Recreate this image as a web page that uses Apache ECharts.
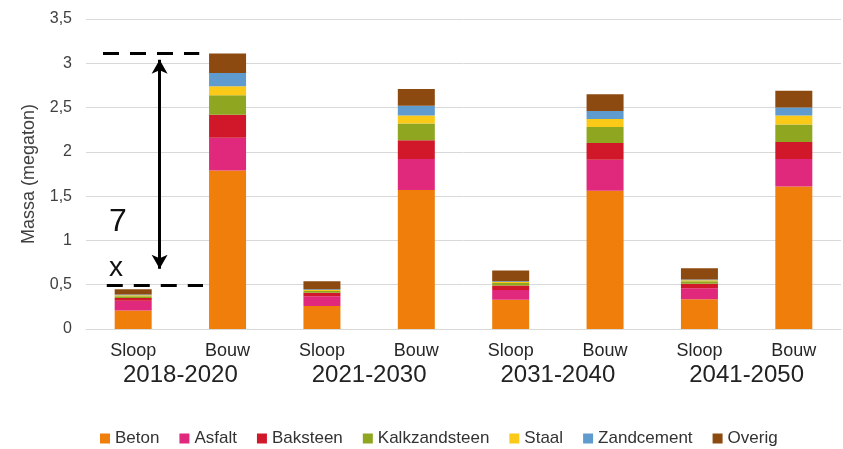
<!DOCTYPE html>
<html>
<head>
<meta charset="utf-8">
<script src="https://cdn.jsdelivr.net/npm/echarts@6/dist/echarts.min.js"></script>
<style>
  html, body { margin: 0; padding: 0; background: #fff; }
  #chart { width: 843px; height: 449px; }
</style>
</head>
<body>
<div id="chart"></div>
<script>
// bars: Sloop / Bouw per period
const categories = ['Sloop', 'Bouw', 'Sloop', 'Bouw', 'Sloop', 'Bouw', 'Sloop', 'Bouw'];
const periods = ['2018-2020', '2021-2030', '2031-2040', '2041-2050'];

const beton         = [0.21, 1.79, 0.26, 1.57, 0.33, 1.56, 0.335, 1.61];
const asfalt        = [0.11, 0.37, 0.11, 0.35, 0.11, 0.35, 0.125, 0.31];
const baksteen      = [0.03, 0.26, 0.04, 0.21, 0.05, 0.19, 0.05, 0.19];
const kalkzandsteen = [0.02, 0.22, 0.02, 0.19, 0.03, 0.18, 0.03, 0.20];
const staal         = [0.01, 0.10, 0.01, 0.09, 0.01, 0.09, 0.01, 0.10];
const zandcement    = [0.01, 0.15, 0.01, 0.11, 0.01, 0.09, 0.01, 0.09];
const overig        = [0.06, 0.22, 0.09, 0.19, 0.12, 0.19, 0.125, 0.19];

const yTicks = [0, 0.5, 1, 1.5, 2, 2.5, 3, 3.5];

// annotation: ratio ~7x between Bouw and Sloop 2018-2020
const dashTop = [[-0.32, 3.11], [0.70, 3.11]];
const dashBottom = [[-0.28, 0.49], [0.74, 0.49]];
const arrow = [[0.28, 3.04], [0.28, 0.68]];

const materials = [
    { name: 'Beton', data: beton, color: '#EF7F0A' },
    { name: 'Asfalt', data: asfalt, color: '#E0297C' },
    { name: 'Baksteen', data: baksteen, color: '#D1182B' },
    { name: 'Kalkzandsteen', data: kalkzandsteen, color: '#8EA620' },
    { name: 'Staal', data: staal, color: '#FBC918' },
    { name: 'Zandcement', data: zandcement, color: '#5F9BCF' },
    { name: 'Overig', data: overig, color: '#8C4A10' }
];

const font = 'Arial, "Liberation Sans", sans-serif';

const chart = echarts.init(document.getElementById('chart'));

const barSeries = materials.map(m => ({
    name: m.name,
    type: 'bar',
    stack: 'total',
    barWidth: 37,
    xAxisIndex: 0,
    yAxisIndex: 0,
    data: m.data,
    itemStyle: { color: m.color },
    emphasis: { disabled: true }
}));

const dashStyle = { color: '#000', width: 3, type: [16, 11] };

const option = {
    animation: false,
    textStyle: { fontFamily: font },
    grid: { left: 86, right: 2, top: 19, bottom: 120 },
    legend: {
        data: materials.map(m => m.name),
        top: 425,
        left: 95,
        icon: 'rect',
        itemWidth: 10,
        itemHeight: 10,
        itemGap: 20,
        textStyle: { fontSize: 17, color: '#333', fontFamily: font }
    },
    xAxis: [
        {
            type: 'category',
            data: categories,
            axisTick: { show: false },
            axisLine: { lineStyle: { color: '#d9d9d9' } },
            axisLabel: { fontSize: 18, color: '#262626', margin: 13 }
        },
        {
            type: 'category',
            data: periods,
            position: 'bottom',
            offset: 26,
            axisTick: { show: false },
            axisLine: { show: false },
            axisLabel: { fontSize: 24, color: '#222', margin: 8 }
        },
        {
            type: 'value',
            min: -0.5,
            max: 7.5,
            show: false
        }
    ],
    yAxis: {
        type: 'value',
        min: yTicks[0],
        max: yTicks[yTicks.length - 1],
        interval: 0.5,
        name: 'Massa (megaton)',
        nameLocation: 'middle',
        nameGap: 48,
        nameTextStyle: { fontSize: 18, color: '#404040' },
        axisLine: { show: false },
        axisTick: { show: false },
        splitLine: { lineStyle: { color: '#d9d9d9' } },
        axisLabel: {
            fontSize: 16,
            color: '#404040',
            margin: 14,
            formatter: v => String(v).replace('.', ',')
        }
    },
    series: barSeries.concat([{
        type: 'line',
        xAxisIndex: 2,
        yAxisIndex: 0,
        data: [],
        silent: true,
        markLine: {
            silent: true,
            animation: false,
            label: { show: false },
            emphasis: { disabled: true },
            data: [
                [{ coord: dashTop[0], symbol: 'none', lineStyle: dashStyle },
                 { coord: dashTop[1], symbol: 'none' }],
                [{ coord: dashBottom[0], symbol: 'none', lineStyle: dashStyle },
                 { coord: dashBottom[1], symbol: 'none' }],
                [{ coord: arrow[0], symbol: 'arrow', symbolSize: [12, 14], lineStyle: { color: '#000', width: 3, type: 'solid' } },
                 { coord: arrow[1], symbol: 'arrow', symbolSize: [12, 14] }]
            ]
        }
    }]),
    graphic: [
        { type: 'text', left: 109, top: 206, style: { text: '7', fontSize: 32, fill: '#111', fontFamily: font } },
        { type: 'text', left: 109, top: 254, style: { text: 'x', fontSize: 28, fill: '#111', fontFamily: font } }
    ]
};

chart.setOption(option);
</script>
</body>
</html>
